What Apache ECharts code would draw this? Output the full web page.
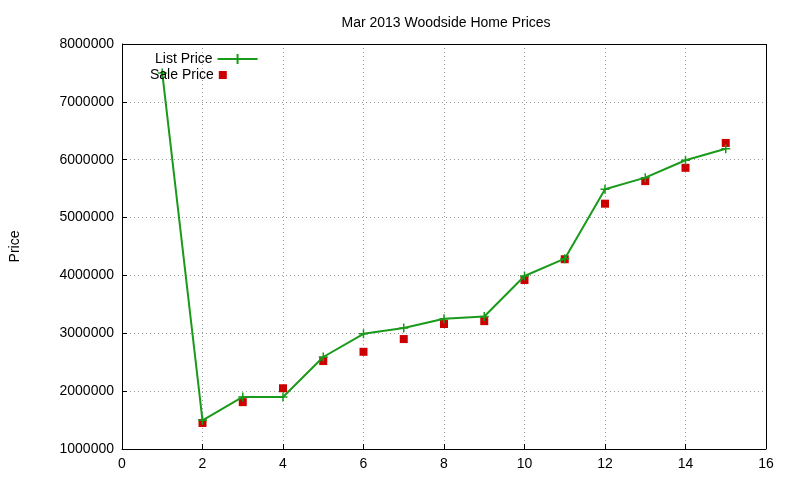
<!DOCTYPE html>
<html><head><meta charset="utf-8">
<script src="https://cdn.jsdelivr.net/npm/echarts@6/dist/echarts.min.js"></script>
<style>body{margin:0}#c{width:800px;height:480px;background:#fff}</style></head>
<body><div id="c"></div>
<script>
const listX=[1,2,3,4,5,6,7,8,9,10,11,12,13,14,15];
const listPrice=[7500000,1495000,1900000,1900000,2590000,2990000,3090000,3250000,3290000,3990000,4290000,5490000,5690000,5990000,6190000];
const saleX=[2,3,4,5,6,7,8,9,10,11,12,13,14,15];
const salePrice=[1450000,1810000,2050000,2520000,2680000,2900000,3160000,3210000,3920000,4280000,5240000,5630000,5860000,6290000];
const ch=echarts.init(document.getElementById('c'));
const f='"Liberation Sans", Arial, sans-serif';
const green='#1a9a1a', red='#cc0000';
ch.setOption({
 animation:false,
 title:{text:'Mar 2013 Woodside Home Prices',left:441,top:11,textAlign:'center',textStyle:{fontFamily:f,fontSize:14,fontWeight:'normal',color:'#000'}},
 legend:[
  {left:150,top:47,align:'right',itemWidth:40,itemHeight:10,textStyle:{fontFamily:f,fontSize:14,color:'#000'},
   data:[{name:'List Price',icon:'path://M0,5L40,5M20,0L20,10',itemStyle:{color:green,borderColor:green,borderWidth:2}}]},
  {left:145,top:63,align:'right',itemWidth:8,itemHeight:8,textStyle:{fontFamily:f,fontSize:14,color:'#000',padding:[0,0,0,0]},
   data:[{name:'Sale Price',icon:'rect',itemStyle:{color:red}}],itemGap:0}
 ],
 grid:{left:120,right:34,top:44,bottom:31},
 xAxis:{type:'value',min:0,max:16,interval:2,axisLine:{lineStyle:{color:'#000'}},axisTick:{inside:true,lineStyle:{color:'#000'}},
   axisLabel:{fontFamily:f,fontSize:14,color:'#000'},splitLine:{lineStyle:{color:'#999',type:[1,3]}}},
 yAxis:{type:'value',min:1000000,max:8000000,interval:1000000,name:'Price',nameLocation:'middle',nameGap:100,
   nameTextStyle:{fontFamily:f,fontSize:14,color:'#000'},axisLine:{show:true,lineStyle:{color:'#000'}},axisTick:{inside:true,lineStyle:{color:'#000'}},
   axisLabel:{fontFamily:f,fontSize:14,color:'#000',formatter:v=>String(v)},splitLine:{lineStyle:{color:'#999',type:[1,3]}}},
 series:[
  {name:'List Price',type:'line',data:listX.map((x,i)=>[x,listPrice[i]]),symbol:'path://M0,5L10,5M5,0L5,10',symbolSize:9,
   lineStyle:{color:green,width:2},itemStyle:{color:green,borderColor:green,borderWidth:1.5}},
  {name:'Sale Price',type:'scatter',data:saleX.map((x,i)=>[x,salePrice[i]]),symbol:'rect',symbolSize:8,itemStyle:{color:red,opacity:1}},
  {type:'line',data:[],markLine:{silent:true,symbol:'none',label:{show:false},lineStyle:{color:'#000',type:'solid',width:1},
   data:[[{coord:[0,8000000]},{coord:[16,8000000]}],[{coord:[16,1000000]},{coord:[16,8000000]}]]}}
 ]
});
</script></body></html>
